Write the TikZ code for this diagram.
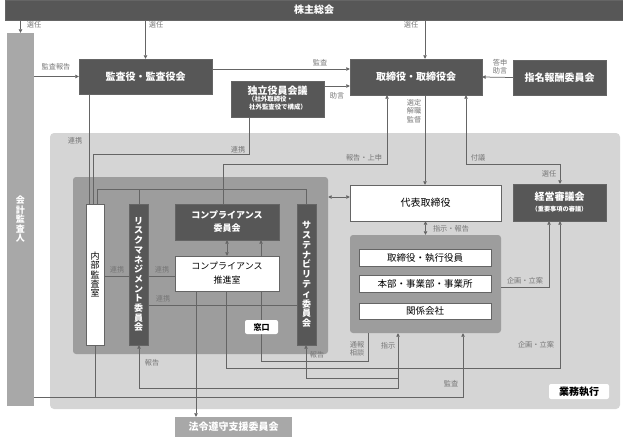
\documentclass[tikz,border=0pt]{standalone}
\usepackage{fontspec}
\setmainfont{Noto Sans CJK JP}
\usepackage{tkz-euclide}
\usetikzlibrary{arrows.meta}
\definecolor{boxdk}{HTML}{575757}
\definecolor{barmd}{HTML}{A8A8A8}
\definecolor{reglt}{HTML}{D5D5D5}
\definecolor{regmd}{HTML}{9D9D9D}
\definecolor{wirec}{HTML}{656565}
\definecolor{lblc}{HTML}{777777}
\pgfdeclarelayer{back}
\pgfdeclarelayer{wires}
\pgfsetlayers{back,wires,main}
\newcommand{\fsz}[2]{\fontsize{#1}{#2}\selectfont}

\begin{document}
\begin{tikzpicture}[x=1pt,y=-1pt,
    >={Triangle[length=3.5pt,width=3.5pt]},
    dkbox/.style={fill=boxdk,draw=wirec,text=white,font=\bfseries\fsz{10}{12},inner sep=0pt,align=center},
    wtbox/.style={fill=white,draw=wirec,text=black,font=\fsz{9.5}{12},inner sep=0pt,align=center},
    lbl/.style={text=lblc,font=\fsz{7.2}{8.5},inner sep=0pt,align=center},
    wire/.style={draw=wirec,line width=0.75pt}
    ]
\useasboundingbox (0,0) rectangle (623,439);
\tkzDefPoints{249/154/P1,93/154/P2,223/164/P3,387/164/P4,466/164/P5,560/164/P6,549/287/P7,226/368/P8,560/368/P9}
\tkzDefPoints{368/361/P10,261/361/P11,398/388/P12,139/388/P13,398/378/P14,306/378/P15,463/397/P16,95/397/P17}
\tkzDefPoints{97/189/P18,306/189/P19,139/189/P20,196/0/P21,0/197/P22,0/69/P23,0/86/P24,89/0/P25,0/276/P26,0/305/P27,425/0/P28}
\begin{pgfonlayer}{back}
\node[fill=reglt,rounded corners=4pt,minimum width=570pt,minimum height=276pt,inner sep=0pt] (gyomu) at (335,271) {};
\node[fill=regmd,rounded corners=3pt,minimum width=255pt,minimum height=177pt,inner sep=0pt] (lreg) at (200.5,265.5) {};
\node[fill=regmd,rounded corners=3pt,minimum width=151pt,minimum height=98pt,inner sep=0pt] (rreg) at (425.5,284) {};
\end{pgfonlayer}
\node[dkbox,minimum width=618pt,minimum height=20pt] (kabu) at (314,10) {株主総会};
\node[dkbox,fill=barmd,draw=none,minimum width=27pt,minimum height=373pt,font=\bfseries\fsz{9}{9.5}] (kaikei) at (20.5,219.5) {会\\計\\監\\査\\人};
\node[dkbox,minimum width=133pt,minimum height=35pt] (kansa) at (145.5,76.5) {監査役・監査役会};
\node[dkbox,minimum width=132pt,minimum height=36pt] (tori) at (416,77) {取締役・取締役会};
\node[dkbox,minimum width=93pt,minimum height=35pt] (shimei) at (559.5,77.5) {指名報酬委員会};
\node[dkbox,minimum width=93pt,minimum height=36pt] (dokuritsu) at (277.5,99) {独立役員会議\\[-1.5pt]{\fsz{6.4}{8.4}\begin{tabular}{@{}l@{}}（社外取締役・\\\,社外監査役で構成）\end{tabular}}};
\node[wtbox,minimum width=151pt,minimum height=36pt,font=\fsz{10}{12}] (daihyo) at (425.5,203) {代表取締役};
\node[dkbox,minimum width=93pt,minimum height=37pt] (keiei) at (559.5,202.5) {経営審議会\\[-1pt]{\fsz{6.2}{8}（重要事項の審議）}};
\node[wtbox,minimum width=132pt,minimum height=17pt] (yakuin) at (425,257.5) {取締役・執行役員};
\node[wtbox,minimum width=132pt,minimum height=17pt] (honbu) at (425,284) {本部・事業部・事業所};
\node[wtbox,minimum width=132pt,minimum height=16pt] (kankei) at (425,311) {関係会社};
\node[wtbox,minimum width=18pt,minimum height=141pt,font=\fsz{9}{9.3}] (naibu) at (95,274.5) {内\\部\\監\\査\\室};
\node[dkbox,minimum width=19pt,minimum height=141pt,font=\bfseries\fsz{9}{9.7}] (risk) at (138.5,274.5) {リ\\ス\\ク\\マ\\ネ\\ジ\\メ\\ン\\ト\\委\\員\\会};
\node[dkbox,minimum width=104pt,minimum height=36pt,font=\bfseries\fsz{9}{13}] (compiinkai) at (227,222) {コンプライアンス\\委員会};
\node[wtbox,minimum width=104pt,minimum height=35pt,font=\fsz{9}{14}] (suishin) at (227,273.5) {コンプライアンス\\推進室};
\node[dkbox,minimum width=19pt,minimum height=141pt,font=\bfseries\fsz{9}{9.8}] (sustain) at (306.5,274.5) {サ\\ス\\テ\\ナ\\ビ\\リ\\テ\\ィ\\委\\員\\会};
\node[wtbox,draw=none,rounded corners=2pt,minimum width=33pt,minimum height=14pt,font=\bfseries\fsz{8}{10}] (mado) at (261.5,327) {窓口};
\node[dkbox,fill=barmd,draw=none,minimum width=117pt,minimum height=20pt] (horei) at (233.5,427) {法令遵守支援委員会};
\node[wtbox,draw=none,rounded corners=2pt,minimum width=60pt,minimum height=15pt,font=\bfseries\fsz{10}{12}] (shikko) at (579,391.5) {業務執行};
\begin{pgfonlayer}{wires}
\draw[wire,->] (kabu.south -| kaikei) -- (kaikei.north);
\draw[wire,->] (kabu.south -| kansa) -- (kansa.north);
\draw[wire,->] (kabu.south -| P28) -- (tori.north -| P28);
\draw[wire,->] (kaikei.east |- kansa) -- (kansa.west);
\draw[wire,->] (kansa.east |- P23) -- (tori.west |- P23);
\draw[wire,->] (dokuritsu.east |- P24) -- (tori.west |- P24);
\draw[wire,->] (shimei.west) -- (tori.east);
\draw[wire] (kansa.south -| P25) -- (naibu.north -| P25);
\draw[wire] (dokuritsu.south -| P1) -- (P1) -- (P2) -- (naibu.north -| P2);
\draw[wire,->] (compiinkai.north -| P3) -- (P3) -- (P4) -- (tori.south -| P4);
\draw[wire,->] (tori.south -| P28) -- (daihyo.north -| P28);
\draw[wire,<->] (tori.south -| P5) -- (P5) -- (P6) -- (keiei.north -| P6);
\draw[wire,<->] (daihyo.south) -- (rreg.north);
\draw[wire,<->] (lreg.east |- P22) -- (daihyo.west |- P22);
\draw[wire,->] (rreg.east |- P7) -- (P7) -- (keiei.south -| P7);
\draw[wire,->] (suishin.south -| P8) -- (P8) -- (P9) -- (keiei.south -| P9);
\draw[wire,->] (suishin.south -| P21) -- (horei.north -| P21);
\draw[wire,->] (rreg.south -| P10) -- (P10) -- (P11) -- (compiinkai.south -| P11);
\draw[wire,<->] (rreg.south -| P12) -- (P12) -- (P13) -- (risk.south -| P13);
\draw[wire,->] (P14) -- (P15) -- (sustain.south -| P15);
\draw[wire,->] (kaikei.east |- P16) -- (P16) -- (rreg.south -| P16);
\draw[wire] (naibu.south -| P17) -- (P17);
\draw[wire] (naibu.north -| P18) -- (P18) -- (P19) -- (sustain.north -| P19);
\draw[wire] (P20) -- (risk.north -| P20);
\draw[wire] (naibu.east |- P26) -- (risk.west |- P26);
\draw[wire] (risk.east |- P26) -- (suishin.west |- P26);
\draw[wire] (risk.east |- P27) -- (sustain.west |- P27);
\draw[wire,<->] (compiinkai.south) -- (suishin.north);
\end{pgfonlayer}
\foreach \x/\y/\txt [count=\i] in {34/25/選任,156/25/選任,411/25/選任,56/67/監査報告,320/63/監査,337/96/助言,
    500/66.5/答申\\助言,414/111/選定\\解職\\監督,75/141/連携,238/150/連携,364/158/報告・上申,478/158/付議,
    549/174/選任,451/229/指示・報告,525/281/企画・立案,117/270/連携,162/270/連携,163/299/連携,
    152/363/報告,317/355/報告,357/349/通報\\相談,388/346/指示,451/384/監査,536/345/企画・立案}
  \node[lbl] (t\i) at (\x,\y) {\txt};
\end{tikzpicture}
\end{document}
